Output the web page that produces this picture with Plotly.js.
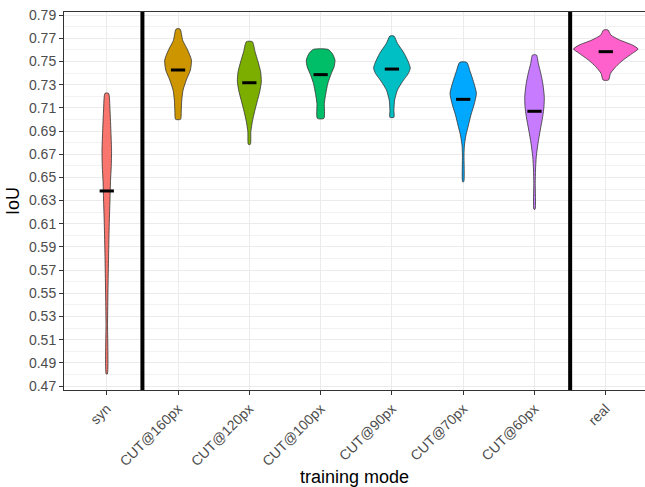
<!DOCTYPE html>
<html>
<head>
<meta charset="utf-8">
<script src="https://cdn.plot.ly/plotly-3.0.1.min.js"></script>
<style>html,body{margin:0;padding:0;background:#fff;}#chart{width:645px;height:487px;}</style>
</head>
<body>
<div id="chart"></div>
<script>
// Categories and colours
var categories = ["syn", "CUT@160px", "CUT@120px", "CUT@100px", "CUT@90px", "CUT@70px", "CUT@60px", "real"];
var colors = ["#F8766D", "#CD9600", "#7CAE00", "#00BE67", "#00BFC4", "#00A9FF", "#C77CFF", "#FF61CC"];

// Medians (IoU)
var medians = [0.6383, 0.7426, 0.7316, 0.7386, 0.7434, 0.7173, 0.7070, 0.7584];

// Violin density profiles: IoU levels (top to bottom) and half-widths (category units)
var synIoU   = [0.7225, 0.7081, 0.6880, 0.6736, 0.6592, 0.6478, 0.6305, 0.6104, 0.5816, 0.5529, 0.5242, 0.4805];
var synW     = [0.025, 0.045, 0.059, 0.067, 0.063, 0.053, 0.045, 0.035, 0.025, 0.017, 0.011, 0.008];
var c160IoU  = [0.7779, 0.7680, 0.7600, 0.7512, 0.7426, 0.7340, 0.7253, 0.7167, 0.7080, 0.7001];
var c160W    = [0.028, 0.066, 0.133, 0.187, 0.173, 0.116, 0.070, 0.052, 0.045, 0.035];
var c120IoU  = [0.7670, 0.7584, 0.7497, 0.7411, 0.7325, 0.7239, 0.7153, 0.7066, 0.6980, 0.6894, 0.6785];
var c120W    = [0.042, 0.080, 0.122, 0.158, 0.168, 0.145, 0.109, 0.073, 0.042, 0.021, 0.014];
var c100IoU  = [0.7604, 0.7570, 0.7512, 0.7454, 0.7397, 0.7311, 0.7225, 0.7139, 0.7009];
var c100W    = [0.101, 0.161, 0.201, 0.189, 0.150, 0.101, 0.073, 0.052, 0.046];
var c90IoU   = [0.7719, 0.7656, 0.7570, 0.7484, 0.7441, 0.7397, 0.7325, 0.7253, 0.7167, 0.7081, 0.7018];
var c90W     = [0.028, 0.077, 0.171, 0.238, 0.257, 0.231, 0.147, 0.077, 0.038, 0.028, 0.028];
var c70IoU   = [0.7492, 0.7411, 0.7325, 0.7225, 0.7124, 0.7038, 0.6952, 0.6866, 0.6779, 0.6693, 0.6463];
var c70W     = [0.049, 0.098, 0.144, 0.185, 0.151, 0.108, 0.074, 0.039, 0.017, 0.011, 0.008];
var c60IoU   = [0.7555, 0.7484, 0.7397, 0.7311, 0.7196, 0.7110, 0.7024, 0.6909, 0.6794, 0.6679, 0.6564, 0.6449, 0.6225];
var c60W     = [0.028, 0.053, 0.088, 0.116, 0.137, 0.133, 0.115, 0.081, 0.049, 0.025, 0.014, 0.010, 0.008];
var realIoU  = [0.7771, 0.7728, 0.7684, 0.7641, 0.7607, 0.7570, 0.7512, 0.7454, 0.7397, 0.7340];
var realW    = [0.031, 0.070, 0.196, 0.374, 0.453, 0.374, 0.243, 0.140, 0.066, 0.038];

var profiles = [[synIoU, synW], [c160IoU, c160W], [c120IoU, c120W], [c100IoU, c100W],
                [c90IoU, c90W], [c70IoU, c70W], [c60IoU, c60W], [realIoU, realW]];

// Y axis ticks
var yTicks = [0.47,0.49,0.51,0.53,0.55,0.57,0.59,0.61,0.63,0.65,0.67,0.69,0.71,0.73,0.75,0.77,0.79];

var traces = [];
profiles.forEach(function(p, i) {
  var pos = i + 1, ys = p[0], ws = p[1];
  var xs = [], yy = [];
  for (var k = 0; k < ys.length; k++) { xs.push(pos - ws[k]); yy.push(ys[k]); }
  for (var k = ys.length - 1; k >= 0; k--) { xs.push(pos + ws[k]); yy.push(ys[k]); }
  xs.push(xs[0]); yy.push(yy[0]);
  traces.push({
    type: "scatter", mode: "lines", x: xs, y: yy, fill: "toself",
    fillcolor: colors[i], line: {color: "#333333", width: 0.8, shape: "spline", smoothing: 0.6},
    hoverinfo: "skip", showlegend: false
  });
});
medians.forEach(function(m, i) {
  traces.push({
    type: "scatter", mode: "lines", x: [i + 1 - 0.1, i + 1 + 0.1], y: [m, m],
    line: {color: "#000000", width: 3}, hoverinfo: "skip", showlegend: false
  });
});

var seps = [1.5, categories.length - 0.5];
var shapes = seps.map(function(s) {
  return {type: "line", xref: "x", yref: "paper", x0: s, x1: s, y0: 0, y1: 1,
          line: {color: "#000000", width: 4}};
});

var layout = {
  width: 645, height: 487,
  margin: {l: 64, r: 0, t: 12, b: 97},
  paper_bgcolor: "#ffffff", plot_bgcolor: "#ffffff",
  showlegend: false,
  font: {family: "Liberation Sans, Arial, sans-serif"},
  xaxis: {
    range: [0.4, 8.55], tickvals: categories.map(function(c, i) { return i + 1; }),
    ticktext: categories, tickangle: -45,
    tickfont: {size: 14, color: "#4D4D4D"},
    showgrid: true, gridcolor: "#EBEBEB", gridwidth: 1,
    zeroline: false, showline: true, linecolor: "#333333", linewidth: 1, mirror: true,
    ticks: "outside", ticklen: 4, tickcolor: "#333333",
    title: {text: "training mode", font: {size: 18, color: "#000000"}, standoff: 2}
  },
  yaxis: {
    range: [0.4667, 0.7926], tickvals: yTicks, ticktext: yTicks.map(function(v){return v.toFixed(2);}),
    tickfont: {size: 14, color: "#4D4D4D"},
    showgrid: true, gridcolor: "#EBEBEB", gridwidth: 1,
    minor: {tickvals: yTicks.map(function(v){return v + 0.01;}), showgrid: true, gridcolor: "#F2F2F2", gridwidth: 1, ticks: ""},
    zeroline: false, showline: true, linecolor: "#333333", linewidth: 1, mirror: true,
    ticks: "outside", ticklen: 4, tickcolor: "#333333",
    title: {text: "IoU", font: {size: 18, color: "#000000"}, standoff: 4}
  },
  shapes: shapes
};

Plotly.newPlot("chart", traces, layout, {staticPlot: true, displayModeBar: false});
</script>
</body>
</html>
